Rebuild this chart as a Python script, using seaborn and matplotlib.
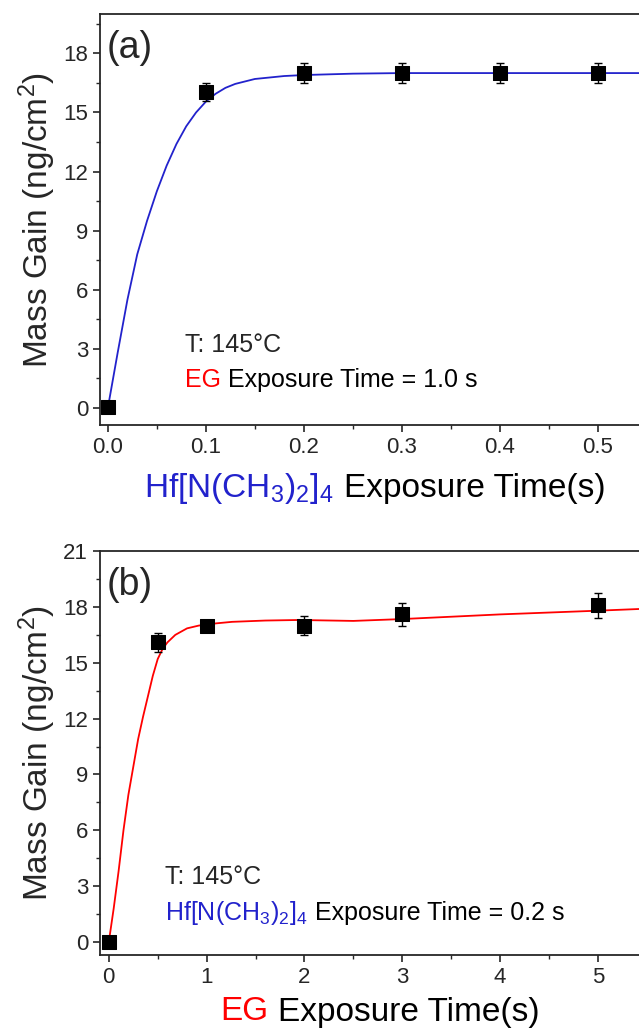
import numpy as np
import pandas as pd
import matplotlib
matplotlib.use("Agg")
import matplotlib.pyplot as plt
import seaborn as sns
from matplotlib.ticker import MultipleLocator, FormatStrFormatter
from matplotlib.offsetbox import TextArea, HPacker, AnnotationBbox

# ============================ DADOS ============================

# (a) Hf[N(CH3)2]4 exposure series
hf_time = [0.0, 0.1, 0.2, 0.3, 0.4, 0.5]
hf_gain = [0.05, 16.05, 17.0, 17.0, 17.0, 17.0]
hf_err = [0.0, 0.45, 0.52, 0.52, 0.52, 0.52]
hf_fit_x = [0.0, 0.01, 0.02, 0.03, 0.04, 0.05, 0.06, 0.07, 0.08, 0.09, 0.10,
            0.11, 0.12, 0.13, 0.15, 0.18, 0.20, 0.25, 0.30, 0.40, 0.50, 0.58]
hf_fit_y = [0.0, 2.8, 5.5, 7.8, 9.5, 11.0, 12.3, 13.4, 14.3, 15.0, 15.55,
            15.95, 16.25, 16.45, 16.7, 16.85, 16.9, 16.97, 17.0, 17.0, 17.0, 17.0]

# (b) EG exposure series
eg_time = [0, 0.5, 1, 2, 3, 5]
eg_gain = [0.0, 16.1, 17.0, 17.0, 17.6, 18.1]
eg_err = [0.0, 0.5, 0.28, 0.5, 0.6, 0.67]
eg_fit_x = [0.0, 0.05, 0.10, 0.15, 0.20, 0.25, 0.30, 0.35, 0.40, 0.45, 0.50,
            0.55, 0.60, 0.68, 0.80, 0.92, 1.1, 1.26, 1.6, 1.94, 2.5, 3.0,
            4.0, 5.0, 5.7]
eg_fit_y = [0.0, 1.8, 3.8, 6.0, 7.9, 9.4, 10.9, 12.1, 13.2, 14.3, 15.2,
            15.75, 16.1, 16.5, 16.85, 17.0, 17.12, 17.2, 17.27, 17.3, 17.25, 17.35,
            17.6, 17.8, 17.95]

# ============================ ESTILO ============================

sns.set_style("ticks")
plt.rcParams['font.family'] = ['Liberation Sans', 'DejaVu Sans']
plt.rcParams['mathtext.default'] = 'regular'
plt.rcParams['axes.linewidth'] = 1.3

BLUE = '#2222CC'
RED = '#FF0000'
HF_LABEL = r'Hf[N(CH$_3$)$_2$]$_4$'

W, H = 639, 1034
fig = plt.figure(figsize=(6.39, 10.34), dpi=100)
# axes run past the right edge of the figure, like the cropped original
ax_a = fig.add_axes([100 / W, 0.589, 0.588 * 980 / W, 0.3975])
ax_b = fig.add_axes([100 / W, 0.0764, 5.79 * 97.8 / W, 0.3906])


def colored_text(parts, xy, size, align=(0.5, 0.5)):
    boxes = [TextArea(txt, textprops=dict(color=c, fontsize=size)) for txt, c in parts]
    pack = HPacker(children=boxes, align="baseline", pad=0, sep=size * 0.3)
    ab = AnnotationBbox(pack, xy, xycoords='figure fraction', frameon=False,
                        box_alignment=align, pad=0)
    fig.add_artist(ab)


def draw_panel(ax, x, y, err, fx, fy, color, xlim, ylim, xmaj, ymaj, tag):
    sns.lineplot(x=fx, y=fy, ax=ax, color=color, lw=1.3)
    ax.errorbar(x, y, yerr=err, fmt='none', ecolor='black', elinewidth=1.0,
                capsize=3, capthick=1.0)
    df = pd.DataFrame({'x': x, 'y': y})
    sns.scatterplot(data=df, x='x', y='y', ax=ax, marker='s', s=90,
                    color='black', edgecolor='black', zorder=5)
    ax.set_xlim(*xlim)
    ax.set_ylim(*ylim)
    ax.xaxis.set_major_locator(MultipleLocator(xmaj))
    ax.xaxis.set_minor_locator(MultipleLocator(xmaj / 2))
    ax.yaxis.set_major_locator(MultipleLocator(ymaj))
    ax.yaxis.set_minor_locator(MultipleLocator(ymaj / 2))
    ax.tick_params(which='major', direction='out', length=5, width=1.2, labelsize=16)
    ax.tick_params(which='minor', direction='out', length=3, width=1.0)
    ax.set_xlabel('')
    ax.set_ylabel('Mass Gain (ng/cm$^2$)', fontsize=24, labelpad=4)
    ax.text(0.012, 0.96, tag, transform=ax.transAxes, fontsize=27,
            ha='left', va='top')
    for s in ax.spines.values():
        s.set_visible(True)


draw_panel(ax_a, hf_time, hf_gain, hf_err, hf_fit_x, hf_fit_y, BLUE,
           (-0.008, 0.58), (-0.86, 20), 0.1, 3, '(a)')
ax_a.xaxis.set_major_formatter(FormatStrFormatter('%.1f'))
draw_panel(ax_b, eg_time, eg_gain, eg_err, eg_fit_x, eg_fit_y, RED,
           (-0.09, 5.7), (-0.7, 21), 1, 3, '(b)')

# annotations panel (a)
ax_a.text(185 / W, 1 - 345 / H, 'T: 145°C', transform=fig.transFigure,
          fontsize=18, ha='left', va='center')
colored_text([('EG', RED), ('Exposure Time = 1.0 s', 'black')],
             (185 / W, 1 - 380 / H), 18, align=(0, 0.5))
colored_text([(HF_LABEL, BLUE), ('Exposure Time(s)', 'black')],
             (375 / W, 1 - 488 / H), 24)

# annotations panel (b)
ax_b.text(165 / W, 1 - 877 / H, 'T: 145°C', transform=fig.transFigure,
          fontsize=18, ha='left', va='center')
colored_text([(HF_LABEL, BLUE), ('Exposure Time = 0.2 s', 'black')],
             (165 / W, 1 - 913 / H), 18, align=(0, 0.5))
colored_text([('EG', RED), ('Exposure Time(s)', 'black')],
             (380 / W, 1 - 1012 / H), 24)

fig.savefig('out.png', dpi=100)
